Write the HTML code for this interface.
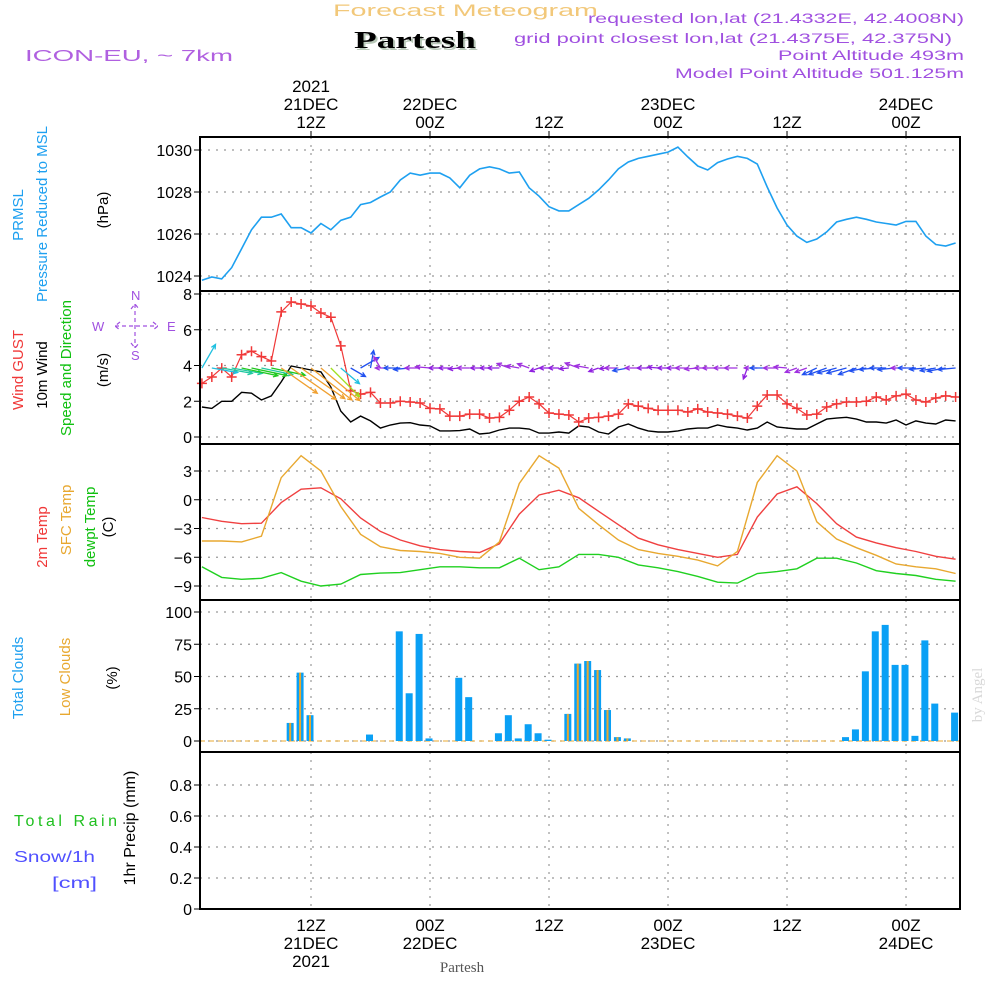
<!DOCTYPE html>
<html><head><meta charset="utf-8"><style>
html,body{margin:0;padding:0;background:#fff;}
svg{display:block;font-family:"Liberation Sans","DejaVu Sans",sans-serif;}
</style></head><body>
<svg id="chart" width="1000" height="1000" viewBox="0 0 1000 1000" xmlns="http://www.w3.org/2000/svg">
<g>
<text x="333" y="16" font-size="17" fill="#f2c87a" textLength="265" lengthAdjust="spacingAndGlyphs">Forecast Meteogram</text>
<text x="356" y="50" font-size="24" font-weight="bold" font-family="Liberation Serif,serif" fill="#b8c8b8" textLength="122" lengthAdjust="spacingAndGlyphs">Partesh</text>
<text x="354" y="48" font-size="24" font-weight="bold" font-family="Liberation Serif,serif" fill="#000" textLength="122" lengthAdjust="spacingAndGlyphs">Partesh</text>
<text x="25" y="61" font-size="16" fill="#b060e0" textLength="208" lengthAdjust="spacingAndGlyphs">ICON-EU, ~ 7km</text>
<text x="964" y="23" font-size="14" fill="#a050e0" text-anchor="end" textLength="376" lengthAdjust="spacingAndGlyphs">requested lon,lat (21.4332E, 42.4008N)</text>
<text x="952" y="43" font-size="14" fill="#a050e0" text-anchor="end" textLength="438" lengthAdjust="spacingAndGlyphs">grid point closest lon,lat (21.4375E, 42.375N)</text>
<text x="964" y="60" font-size="14" fill="#a050e0" text-anchor="end" textLength="186" lengthAdjust="spacingAndGlyphs">Point Altitude 493m</text>
<text x="964" y="78" font-size="14" fill="#a050e0" text-anchor="end" textLength="289" lengthAdjust="spacingAndGlyphs">Model Point Altitude 501.125m</text>
</g>
<g id="labels" font-size="15">
<text transform="translate(23,215) rotate(-90)" text-anchor="middle" fill="#1ea0f0">PRMSL</text>
<text transform="translate(47,214) rotate(-90)" text-anchor="middle" fill="#1ea0f0">Pressure Reduced to MSL</text>
<text transform="translate(108,210) rotate(-90)" text-anchor="middle" fill="#000">(hPa)</text>
<text transform="translate(23,370) rotate(-90)" text-anchor="middle" fill="#f03838">Wind GUST</text>
<text transform="translate(47,375) rotate(-90)" text-anchor="middle" fill="#000">10m Wind</text>
<text transform="translate(71,368) rotate(-90)" text-anchor="middle" fill="#10c010">Speed and Direction</text>
<text transform="translate(108,370) rotate(-90)" text-anchor="middle" fill="#000">(m/s)</text>
<text transform="translate(47,537) rotate(-90)" text-anchor="middle" fill="#f03838">2m Temp</text>
<text transform="translate(71,520) rotate(-90)" text-anchor="middle" fill="#e8a830">SFC Temp</text>
<text transform="translate(95,527) rotate(-90)" text-anchor="middle" fill="#10c010">dewpt Temp</text>
<text transform="translate(113,527) rotate(-90)" text-anchor="middle" fill="#000">(C)</text>
<text transform="translate(23,678) rotate(-90)" text-anchor="middle" fill="#1ea0f0">Total Clouds</text>
<text transform="translate(70,677) rotate(-90)" text-anchor="middle" fill="#e8a830">Low Clouds</text>
<text transform="translate(117,678) rotate(-90)" text-anchor="middle" fill="#000">(%)</text>
<text x="14" y="826" fill="#20c020" font-size="16" textLength="103" lengthAdjust="spacing">Total   Rain</text>
<text x="14" y="862" fill="#5050ff" font-size="16" textLength="81" lengthAdjust="spacingAndGlyphs">Snow/1h</text>
<text x="52" y="888" fill="#5050ff" font-size="16" textLength="45" lengthAdjust="spacingAndGlyphs">[cm]</text>
<text transform="translate(135,828) rotate(-90)" text-anchor="middle" fill="#000" font-size="16">1hr Precip (mm)</text>
<g fill="#a050e0" font-size="13">
<text x="92" y="331">W</text>
<text x="167" y="331">E</text>
<text x="131" y="300">N</text>
<text x="131" y="360">S</text>
<path d="M115,326H158M135,304V348M120,322L115,326L120,330M153,322L158,326L153,330M131,309L135,304L139,309M131,343L135,348L139,343" stroke="#a050e0" stroke-width="1.2" fill="none" stroke-dasharray="4,3"/>
</g>
<text transform="translate(982,695) rotate(-90)" text-anchor="middle" fill="#d8d8d8" font-size="15" font-family="Liberation Serif,serif">by Angel</text>
<text x="462" y="972" text-anchor="middle" fill="#555" font-size="15" font-family="Liberation Serif,serif">Partesh</text>
</g>
<g id="grid"></g>
<g id="marks"></g>
<g id="frames"></g>
<g id="axes" font-size="16" fill="#000"></g>
</svg>
<script>
// ---- data (hourly from 01Z 21DEC) ----
const pressure=[1023.8,1023.95,1023.86,1024.4,1025.3,1026.2,1026.8,1026.8,1026.95,1026.3,1026.3,1026.05,1026.5,1026.2,1026.65,1026.8,1027.4,1027.5,1027.76,1028,1028.57,1028.9,1028.8,1028.9,1028.9,1028.67,1028.2,1028.8,1029.1,1029.2,1029.1,1028.9,1028.95,1028.2,1027.8,1027.3,1027.1,1027.1,1027.4,1027.7,1028.1,1028.57,1029.1,1029.43,1029.6,1029.7,1029.8,1029.9,1030.14,1029.67,1029.24,1029.05,1029.4,1029.57,1029.7,1029.6,1029.33,1028.24,1027.24,1026.43,1025.9,1025.6,1025.76,1026.1,1026.57,1026.7,1026.8,1026.7,1026.57,1026.5,1026.43,1026.6,1026.6,1025.9,1025.5,1025.43,1025.57];
const windGust=[3.0,3.36,3.85,3.36,4.6,4.8,4.5,4.25,7.0,7.55,7.44,7.33,6.94,6.7,5.1,2.6,2.4,2.5,1.9,1.9,2.0,1.96,1.9,1.6,1.57,1.17,1.17,1.28,1.28,1.06,1.1,1.5,2.0,2.24,1.85,1.34,1.28,1.23,0.84,1.06,1.1,1.17,1.28,1.85,1.73,1.6,1.5,1.5,1.5,1.4,1.57,1.4,1.34,1.28,1.17,1.06,1.73,2.35,2.35,1.85,1.6,1.23,1.28,1.68,1.85,1.96,1.96,2.0,2.24,2.07,2.3,2.4,2.07,1.96,2.18,2.3,2.24];
const wind10m=[1.68,1.6,2.0,2.0,2.5,2.45,2.07,2.3,3.08,3.97,3.86,3.75,3.64,2.8,1.45,0.84,1.17,0.9,0.5,0.67,0.78,0.8,0.67,0.62,0.34,0.34,0.36,0.45,0.17,0.22,0.39,0.5,0.5,0.45,0.22,0.22,0.28,0.22,0.62,0.56,0.28,0.17,0.56,0.73,0.5,0.34,0.28,0.28,0.34,0.45,0.5,0.5,0.67,0.56,0.5,0.39,0.5,0.84,0.56,0.5,0.45,0.45,0.73,1.0,1.06,1.1,1.0,0.84,0.84,0.78,0.95,0.67,0.9,0.78,0.73,0.95,0.9];
// arrow direction on screen (deg, 0=east, 90=south)
const windDir=[-60,10,10,10,12,12,12,12,35,35,35,38,40,45,40,30,-30,-80,-120,180,180,175,180,185,180,180,175,180,180,180,180,200,190,200,160,180,180,175,200,190,160,175,180,170,180,180,185,180,180,180,175,180,180,180,180,110,180,180,180,185,160,160,155,160,165,165,160,170,175,180,175,180,180,175,170,170,175];
// 2-hourly temps (01Z,03Z,...)
const temp2m=[-1.85,-2.25,-2.5,-2.45,-0.3,1.1,1.25,0.1,-1.9,-3.3,-4.2,-4.8,-5.2,-5.4,-5.5,-4.6,-1.5,0.5,1.0,0.2,-1.2,-2.6,-4.0,-4.7,-5.2,-5.6,-6.0,-5.7,-1.8,0.6,1.35,-0.4,-2.5,-3.9,-4.5,-5.0,-5.4,-5.9,-6.2];
const tempSfc=[-4.3,-4.3,-4.4,-3.8,2.3,4.6,3.0,-0.7,-3.6,-4.9,-5.3,-5.4,-5.6,-6.0,-6.1,-4.4,1.7,4.6,3.3,-0.9,-2.6,-4.2,-5.2,-5.6,-5.9,-6.3,-6.9,-5.4,1.8,4.6,3.0,-2.3,-4.1,-5.0,-5.8,-6.7,-7.0,-7.2,-7.7];
const dewpt=[-7.0,-8.1,-8.3,-8.2,-7.6,-8.5,-9.0,-8.8,-7.8,-7.65,-7.6,-7.3,-7.0,-7.0,-7.1,-7.1,-6.1,-7.3,-7.0,-5.7,-5.7,-6.0,-6.8,-7.1,-7.5,-8.0,-8.6,-8.7,-7.7,-7.5,-7.2,-6.1,-6.1,-6.6,-7.4,-7.7,-7.9,-8.3,-8.5];
const cloudHours=[10,11,12,18,21,22,23,24,27,28,31,32,33,34,35,36,38,39,40,41,42,43,44,66,67,68,69,70,71,72,73,74,75,77];
const cloudTotal=[14,53,20,5,85,37,83,2,49,34,6,20,2,13,6,1,21,60,62,55,24,3,2,3,9,54,85,90,59,59,4,78,29,22];
const cloudLow=[14,53,20,0,0,0,0,0,0,0,0,0,0,0,0,0,21,60,62,55,24,3,2,0,0,0,0,0,0,0,0,0,0,0];
const pressTicks=[1024,1026,1028,1030];
const windTicks=[0,2,4,6,8];
const tempTicks=[-9,-6,-3,0,3];
const cloudTicks=[0,25,50,75,100];
const precipTicks=[0,0.2,0.4,0.6,0.8];
const timeTicks=[12,24,36,48,60,72];
const topTimeLabels=[["2021","21DEC","12Z"],["","22DEC","00Z"],["","","12Z"],["","23DEC","00Z"],["","","12Z"],["","24DEC","00Z"]];
const bottomTimeLabels=[["12Z","21DEC","2021"],["00Z","22DEC",""],["12Z","",""],["00Z","23DEC",""],["12Z","",""],["00Z","24DEC",""]];

// ---- scales ----
const X0=200,X1=960;
const x=t=>311+(t-12)*9.917;
const lin=(d0,d1,r0,r1)=>v=>r0+(v-d0)*(r1-r0)/(d1-d0);
const yP=lin(1024,1030,276,150);
const yW=lin(0,8,437,294);
const yT=lin(-9,3,586,471);
const yC=lin(0,100,741,612);
const yR=lin(0,0.8,909,785);
const NS="http://www.w3.org/2000/svg";
function mk(parent,tag,attrs){const e=document.createElementNS(NS,tag);for(const k in attrs)e.setAttribute(k,attrs[k]);parent.appendChild(e);return e;}
const grid=document.getElementById('grid'),marks=document.getElementById('marks'),frames=document.getElementById('frames'),axes=document.getElementById('axes');
const panels=[{top:137,bot:291,ticks:pressTicks,y:yP,name:'pressure'},{top:291,bot:444,ticks:windTicks,y:yW,name:'wind'},{top:444,bot:600,ticks:tempTicks,y:yT,name:'temp'},{top:600,bot:752,ticks:cloudTicks,y:yC,name:'cloud'},{top:752,bot:909,ticks:precipTicks,y:yR,name:'precip'}];
panels.forEach(p=>{
  p.ticks.forEach(v=>{
    const yy=p.y(v);
    const g=mk(grid,'line',{x1:X0,x2:X1,y1:yy,y2:yy,stroke:'#999','stroke-dasharray':'2,6','stroke-width':1.2});
    
    
    const tk=mk(axes,'line',{x1:X0-6,x2:X0,y1:yy,y2:yy,stroke:'#000'});
    
    
    const tx=mk(axes,'text',{x:X0-8,y:yy+6,'text-anchor':'end'});
    tx.textContent=(p.name==='temp'&&v<0)?'\u2212'+(-v):String(v);
    
    
  });
  timeTicks.forEach(t=>{
    const g=mk(grid,'line',{x1:x(t),x2:x(t),y1:p.top,y2:p.bot,stroke:'#999','stroke-dasharray':'2,6','stroke-width':1.2});
    
    
  });
  const f=mk(frames,'rect',{x:X0,y:p.top,width:X1-X0,height:p.bot-p.top,fill:'none',stroke:'#000','stroke-width':2});
  
  
});
timeTicks.forEach((t,i)=>{
  const a=mk(axes,'line',{x1:x(t),x2:x(t),y1:131,y2:137,stroke:'#000'});
  
  
  topTimeLabels[i].forEach((s,j)=>{if(!s)return;
    const tx=mk(axes,'text',{x:x(t),y:92+j*18,'text-anchor':'middle','font-size':17});
    tx.textContent=s;
    
    
  });
  bottomTimeLabels[i].forEach((s,j)=>{if(!s)return;
    const tx=mk(axes,'text',{x:x(t),y:931+j*18,'text-anchor':'middle','font-size':17});
    tx.textContent=s;
    
    
  });
});
function line(arr,step,y,color,name,w){
  const pts=arr.map((v,i)=>x(1+i*step).toFixed(1)+','+y(v).toFixed(1)).join(' ');
  const l=mk(marks,'polyline',{points:pts,fill:'none',stroke:color,'stroke-width':w||1.4});
  
  
  return l;
}
line(pressure,1,yP,'#1ea0f0','pressure-line',1.6);
line(wind10m,1,yW,'#000','wind-10m-line');
line(windGust,1,yW,'#f03838','gust-line',1.2);
windGust.forEach((v,i)=>{
  const cx=x(1+i),cy=yW(v);
  const p=mk(marks,'path',{d:`M${cx-5},${cy}H${cx+5}M${cx},${cy-5}V${cy+5}`,stroke:'#f03838','stroke-width':1.5});
  
  
});
function windColor(s){if(s<0.45)return'#9020e0';if(s<0.7)return'#a030e0';if(s<1.3)return'#2050f0';if(s<1.9)return'#20c0e0';if(s<2.2)return'#20c8a0';if(s<2.7)return'#20c820';if(s<3.0)return'#a0e020';return'#f0a030';}
wind10m.forEach((s,i)=>{
  const d=windDir[i];if(d===undefined)return;
  const L=Math.min(55,7+s*12),a=d*Math.PI/180;
  const x1=x(1+i),y1=368,x2=x1+L*Math.cos(a),y2=y1+L*Math.sin(a);
  const h=5,b1=a+Math.PI-0.45,b2=a+Math.PI+0.45;
  const c=windColor(s);
  const p=mk(marks,'path',{d:`M${x1},${y1}L${x2},${y2}M${x2+h*Math.cos(b1)},${y2+h*Math.sin(b1)}L${x2},${y2}L${x2+h*Math.cos(b2)},${y2+h*Math.sin(b2)}`,stroke:c,'stroke-width':1.3,fill:'none'});
  
  
});
line(temp2m,2,yT,'#f04040','temp-2m-line');
line(tempSfc,2,yT,'#e8a830','temp-sfc-line');
line(dewpt,2,yT,'#20d020','dewpt-line');
const z=mk(marks,'line',{x1:X0,x2:X1,y1:yC(0),y2:yC(0),stroke:'#e8a830','stroke-dasharray':'5,4'});


cloudHours.forEach((t,i)=>{
  const cx=x(t)-1;
  const r=mk(marks,'rect',{x:cx-3.5,y:yC(cloudTotal[i]),width:7,height:yC(0)-yC(cloudTotal[i]),fill:'#0aa0f5'});
  
  
  if(cloudLow[i]>0){
    const q=mk(marks,'rect',{x:cx-1,y:yC(cloudLow[i]),width:2,height:yC(0)-yC(cloudLow[i]),fill:'#e8a830'});
    
    
  }
});
const pz=mk(marks,'line',{x1:X0,x2:X1,y1:yR(0),y2:yR(0),stroke:'#000','stroke-dasharray':'5,4','stroke-width':1.5});


</script>
</body></html>
